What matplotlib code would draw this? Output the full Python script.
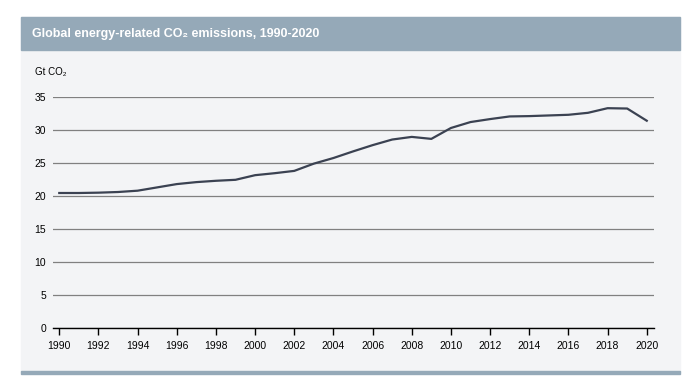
import matplotlib.pyplot as plt
from matplotlib.patches import Rectangle

years = list(range(1990, 2021))
emissions = [
    20.5, 20.5, 20.55, 20.65, 20.85, 21.35, 21.85, 22.15, 22.35, 22.5,
    23.2, 23.5, 23.85, 24.95, 25.8, 26.8, 27.75, 28.6, 29.0, 28.7,
    30.35, 31.25, 31.7, 32.1, 32.15, 32.25, 32.35, 32.65, 33.35, 33.3,
    31.45,
]
x_ticks = list(range(1990, 2021, 2))
y_ticks = [0, 5, 10, 15, 20, 25, 30, 35]

title = "Global energy-related CO\u2082 emissions, 1990-2020"
unit_label = "Gt CO\u2082"

plt.rcParams["font.family"] = ["Liberation Sans", "DejaVu Sans"]

W, H = 692, 385
fig = plt.figure(figsize=(W / 100, H / 100), dpi=100)

panel_bg = "#f3f4f6"
header_col = "#95a9b8"

# panel, header band, bottom rule (pixel coords -> figure fractions)
def px_rect(x0, y0, x1, y1, color):
    fig.patches.append(Rectangle((x0 / W, 1 - y1 / H), (x1 - x0) / W, (y1 - y0) / H,
                                 transform=fig.transFigure, color=color, zorder=-1))

px_rect(21, 17, 680, 372, panel_bg)
px_rect(21, 17, 680, 50, header_col)
px_rect(21, 371, 680, 374, header_col)

fig.text(32 / W, 1 - 34 / H, title, color="white", fontsize=9, fontweight="bold",
         va="center", ha="left")
fig.text(35 / W, 1 - 72 / H, unit_label, color="black", fontsize=7, va="center", ha="left")

ax = fig.add_axes([53 / W, 1 - 328.3 / H, 601 / W, 231 / H])
ax.set_zorder(2)
ax.set_facecolor("none")
ax.plot(years, emissions, color="#3b4252", linewidth=1.6, solid_joinstyle="round",
        zorder=3)

ax.set_xlim(1989.68, 2020.37)
ax.set_ylim(0, 35)
ax.set_xticks(x_ticks)
ax.set_yticks(y_ticks)
ax.tick_params(axis="x", length=5, width=1, color="black", labelsize=7.5, pad=4)
ax.tick_params(axis="y", length=0, labelsize=7.5, pad=5)
ax.grid(axis="y", color="#808080", linewidth=0.9)
ax.set_axisbelow(True)
for side in ["top", "right", "left"]:
    ax.spines[side].set_visible(False)
ax.spines["bottom"].set_color("black")
ax.spines["bottom"].set_linewidth(1)
ax.spines["bottom"].set_zorder(4)

fig.savefig("out.png", dpi=100)
plt.close(fig)
